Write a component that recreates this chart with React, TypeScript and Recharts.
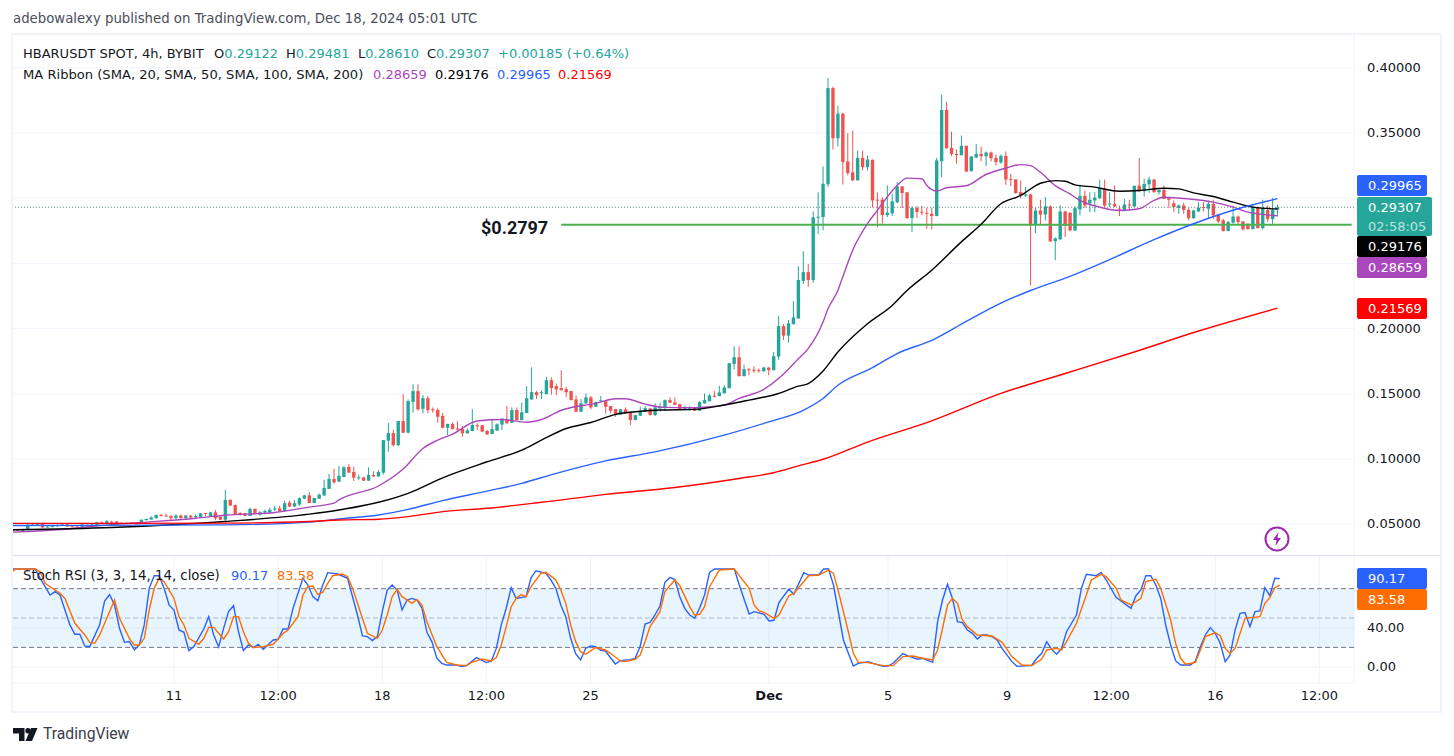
import { Bar, CartesianGrid, ComposedChart, Line, ReferenceArea, ReferenceLine, XAxis, YAxis } from 'recharts';

const FONT = '"DejaVu Sans", sans-serif';
const UP = '#26a69a';
const DOWN = '#ef5350';
const SLOTS = 272;

const tickIndexes = [33, 54, 75, 96, 117, 153, 177, 201, 222, 243, 264];
const tickLabels = ['11', '12:00', '18', '12:00', '25', 'Dec', '5', '9', '12:00', '16', '12:00'];
const priceTicks = [0.05, 0.1, 0.15, 0.2, 0.25, 0.3, 0.35, 0.4];
// these two sit behind the price tags in the reference, only their grid lines show
const coveredPriceTicks = [0.25, 0.3];
const stochTicks = [0, 40];

const opens = [
  0.0448, 0.0456, 0.0449, 0.0456, 0.0494, 0.0496, 0.0503, 0.0478, 0.048, 0.0483,
  0.049, 0.0497, 0.0483, 0.0481, 0.0478, 0.049, 0.049, 0.049, 0.0512, 0.0505,
  0.0518, 0.052, 0.0505, 0.0505, 0.051, 0.0505, 0.0505, 0.053, 0.0535, 0.0545,
  0.057, 0.0565, 0.056, 0.0545, 0.0565, 0.0545, 0.0565, 0.0555, 0.0555, 0.0585,
  0.0562, 0.059, 0.0555, 0.0533, 0.0686, 0.0647, 0.0585, 0.0583, 0.0563, 0.0617,
  0.0572, 0.059, 0.059, 0.0612, 0.062, 0.06, 0.0665, 0.0635, 0.065, 0.0695,
  0.072, 0.0662, 0.0695, 0.072, 0.077, 0.0846, 0.0825, 0.0862, 0.0938, 0.09,
  0.0855, 0.0858, 0.0833, 0.0876, 0.0865, 0.0895, 0.114, 0.1198, 0.1105, 0.129,
  0.1201, 0.1437, 0.152, 0.1385, 0.1466, 0.1381, 0.1375, 0.1329, 0.1239, 0.1268,
  0.1234, 0.1229, 0.1196, 0.1214, 0.1258, 0.1258, 0.1214, 0.1191, 0.1217, 0.1263,
  0.1303, 0.1278, 0.1375, 0.1298, 0.1352, 0.1456, 0.1512, 0.1509, 0.1497, 0.1604,
  0.1558, 0.1543, 0.1535, 0.152, 0.1456, 0.1362, 0.1426, 0.1472, 0.14, 0.1445,
  0.1443, 0.1405, 0.1382, 0.1339, 0.138, 0.1354, 0.1298, 0.1331, 0.1362, 0.1387,
  0.1336, 0.1388, 0.1395, 0.1451, 0.1433, 0.142, 0.1375, 0.1384, 0.139, 0.1369,
  0.1426, 0.1443, 0.1484, 0.1482, 0.1504, 0.1543, 0.1729, 0.178, 0.1635, 0.1688,
  0.1683, 0.1683, 0.1672, 0.1701, 0.1681, 0.1785, 0.2019, 0.1946, 0.2035, 0.2078,
  0.2366, 0.2433, 0.2372, 0.2853, 0.2856, 0.3106, 0.3845, 0.346, 0.3649, 0.3282,
  0.3198, 0.3137, 0.331, 0.3238, 0.3295, 0.2989, 0.2989, 0.2871, 0.2884, 0.2968,
  0.3091, 0.3045, 0.2848, 0.2925, 0.2897, 0.2887, 0.2881, 0.2864, 0.3284, 0.3677,
  0.3386, 0.334, 0.333, 0.3402, 0.3208, 0.3312, 0.334, 0.3322, 0.3351, 0.331,
  0.3274, 0.3325, 0.3149, 0.3144, 0.3047, 0.302, 0.3029, 0.2799, 0.2906, 0.2875,
  0.2937, 0.2671, 0.2684, 0.2898, 0.2888, 0.2753, 0.2914, 0.3018, 0.2962, 0.2983,
  0.3, 0.3072, 0.2955, 0.2957, 0.292, 0.2906, 0.2952, 0.2937, 0.3097, 0.3054,
  0.3107, 0.3143, 0.3046, 0.3064, 0.3, 0.2962, 0.2926, 0.2944, 0.2911, 0.2847,
  0.2898, 0.2933, 0.292, 0.2957, 0.2873, 0.283, 0.2748, 0.2812, 0.286, 0.2822,
  0.2804, 0.2763, 0.2932, 0.2771, 0.2911, 0.284, 0.29122,
];
const highs = [
  0.0462, 0.046, 0.0456, 0.0505, 0.0508, 0.0505, 0.051, 0.0485, 0.0488, 0.0498,
  0.0505, 0.05, 0.0487, 0.0484, 0.05, 0.0498, 0.0502, 0.0515, 0.052, 0.053,
  0.0525, 0.0524, 0.0512, 0.0512, 0.0514, 0.051, 0.0536, 0.0542, 0.056, 0.0572,
  0.0578, 0.058, 0.057, 0.0575, 0.0575, 0.0568, 0.0568, 0.0575, 0.0584, 0.0586,
  0.0592, 0.0607, 0.0558, 0.0762, 0.0688, 0.0649, 0.0592, 0.0585, 0.0625, 0.0618,
  0.06, 0.061, 0.0625, 0.064, 0.064, 0.068, 0.068, 0.0685, 0.0705, 0.0725,
  0.0745, 0.0702, 0.0735, 0.084, 0.0885, 0.0925, 0.0945, 0.0945, 0.096, 0.094,
  0.088, 0.0862, 0.0935, 0.0905, 0.0915, 0.1144, 0.1275, 0.1225, 0.1292, 0.1497,
  0.1456, 0.1573, 0.1573, 0.1489, 0.1482, 0.1395, 0.1388, 0.1352, 0.127, 0.128,
  0.129, 0.1252, 0.1234, 0.1382, 0.1273, 0.126, 0.1222, 0.1298, 0.1273, 0.131,
  0.1405, 0.1395, 0.1395, 0.1433, 0.1558, 0.1703, 0.152, 0.1527, 0.163, 0.1625,
  0.1578, 0.1681, 0.1553, 0.1523, 0.1487, 0.1459, 0.1502, 0.1482, 0.144, 0.1482,
  0.1447, 0.1407, 0.1384, 0.1382, 0.1395, 0.1356, 0.1338, 0.14, 0.1405, 0.1392,
  0.1426, 0.1431, 0.1456, 0.1472, 0.1472, 0.1422, 0.1405, 0.1405, 0.14, 0.1443,
  0.1502, 0.1497, 0.1523, 0.1561, 0.1566, 0.1736, 0.1864, 0.1864, 0.1724, 0.1698,
  0.1711, 0.1693, 0.1706, 0.1703, 0.1821, 0.2096, 0.2035, 0.2066, 0.2211, 0.2479,
  0.2593, 0.2494, 0.2899, 0.3045, 0.3244, 0.3922, 0.3856, 0.371, 0.3657, 0.3499,
  0.3519, 0.3366, 0.3366, 0.3328, 0.3297, 0.3045, 0.3009, 0.3098, 0.3035, 0.3124,
  0.3093, 0.3047, 0.2938, 0.2938, 0.2943, 0.2925, 0.2927, 0.331, 0.3794, 0.3741,
  0.3511, 0.3374, 0.3481, 0.3404, 0.3325, 0.3417, 0.3397, 0.3358, 0.3358, 0.3335,
  0.3335, 0.3358, 0.3187, 0.3146, 0.3136, 0.3086, 0.3035, 0.2926, 0.2988, 0.3008,
  0.2945, 0.27, 0.2945, 0.2906, 0.2893, 0.2937, 0.3102, 0.3059, 0.3046, 0.3046,
  0.3143, 0.3143, 0.3046, 0.3097, 0.2944, 0.2995, 0.2988, 0.3097, 0.3309, 0.3148,
  0.3166, 0.3148, 0.3066, 0.3097, 0.3002, 0.2983, 0.2952, 0.2965, 0.2926, 0.2911,
  0.297, 0.297, 0.2983, 0.2988, 0.2875, 0.2842, 0.2825, 0.2944, 0.2868, 0.2824,
  0.2806, 0.2957, 0.2937, 0.2988, 0.2944, 0.3003, 0.29481,
];
const lows = [
  0.0444, 0.0449, 0.0447, 0.0452, 0.049, 0.0492, 0.047, 0.0474, 0.0477, 0.048,
  0.0487, 0.048, 0.0478, 0.0476, 0.0476, 0.0488, 0.0488, 0.0482, 0.0503, 0.0503,
  0.049, 0.0503, 0.0502, 0.0503, 0.0501, 0.05, 0.0503, 0.0528, 0.0533, 0.0543,
  0.0558, 0.0558, 0.053, 0.054, 0.0542, 0.0543, 0.0548, 0.0545, 0.0553, 0.056,
  0.056, 0.053, 0.053, 0.0525, 0.064, 0.0576, 0.0565, 0.0561, 0.0561, 0.0576,
  0.0565, 0.0575, 0.058, 0.06, 0.059, 0.0595, 0.063, 0.063, 0.064, 0.0692,
  0.066, 0.066, 0.0693, 0.0715, 0.0768, 0.081, 0.0823, 0.086, 0.0893, 0.083,
  0.084, 0.0831, 0.0831, 0.0863, 0.0863, 0.088, 0.1055, 0.1095, 0.11, 0.1199,
  0.1195, 0.1354, 0.137, 0.1349, 0.1349, 0.1354, 0.1278, 0.1235, 0.1183, 0.1225,
  0.1218, 0.1171, 0.1194, 0.1212, 0.1222, 0.1207, 0.1183, 0.1189, 0.1215, 0.1222,
  0.127, 0.1275, 0.1295, 0.1296, 0.135, 0.1454, 0.1459, 0.1459, 0.1495, 0.1492,
  0.1489, 0.1525, 0.1477, 0.1449, 0.136, 0.136, 0.1424, 0.138, 0.1398, 0.1438,
  0.1346, 0.1349, 0.1323, 0.1337, 0.1345, 0.126, 0.1296, 0.1329, 0.136, 0.1334,
  0.1329, 0.1362, 0.137, 0.1429, 0.1413, 0.1373, 0.1373, 0.1369, 0.1367, 0.1367,
  0.1424, 0.1441, 0.1472, 0.148, 0.1502, 0.1541, 0.1686, 0.1633, 0.1633, 0.1642,
  0.166, 0.166, 0.167, 0.1642, 0.1679, 0.176, 0.1912, 0.1892, 0.203, 0.2073,
  0.2341, 0.232, 0.2351, 0.2726, 0.2754, 0.3086, 0.3374, 0.3397, 0.3106, 0.3175,
  0.313, 0.3135, 0.3213, 0.3213, 0.293, 0.2779, 0.2805, 0.2856, 0.2864, 0.2963,
  0.2925, 0.2841, 0.2741, 0.2848, 0.2869, 0.2767, 0.2759, 0.2861, 0.3162, 0.3379,
  0.3323, 0.3264, 0.3328, 0.32, 0.3205, 0.3307, 0.3284, 0.3246, 0.3282, 0.3251,
  0.3264, 0.3103, 0.3093, 0.3035, 0.3, 0.3009, 0.2332, 0.2733, 0.2799, 0.283,
  0.2664, 0.2524, 0.2682, 0.2702, 0.2745, 0.2748, 0.2868, 0.2926, 0.2893, 0.2893,
  0.2995, 0.2932, 0.2932, 0.2932, 0.2863, 0.2899, 0.2906, 0.2932, 0.3046, 0.3013,
  0.3041, 0.3044, 0.3028, 0.2993, 0.2926, 0.2893, 0.288, 0.288, 0.283, 0.2842,
  0.2893, 0.2898, 0.2842, 0.2842, 0.2809, 0.2745, 0.2746, 0.2804, 0.2799, 0.2753,
  0.276, 0.2761, 0.2769, 0.2761, 0.2817, 0.2799, 0.2861,
];
const closes = [
  0.0456, 0.0451, 0.0454, 0.0494, 0.0497, 0.0499, 0.0474, 0.048, 0.0484, 0.0491,
  0.0497, 0.0482, 0.048, 0.0478, 0.0497, 0.0494, 0.0497, 0.0513, 0.0505, 0.0523,
  0.051, 0.0505, 0.051, 0.051, 0.0503, 0.0502, 0.0533, 0.054, 0.055, 0.057,
  0.0565, 0.056, 0.0545, 0.0565, 0.0545, 0.0565, 0.055, 0.0562, 0.0582, 0.058,
  0.059, 0.0545, 0.0533, 0.0685, 0.0642, 0.0578, 0.0575, 0.0563, 0.0617, 0.0578,
  0.059, 0.06, 0.061, 0.062, 0.06, 0.066, 0.0635, 0.066, 0.0698, 0.072,
  0.0662, 0.07, 0.0725, 0.0777, 0.0846, 0.082, 0.087, 0.0935, 0.0895, 0.0856,
  0.0858, 0.0833, 0.0877, 0.0865, 0.09, 0.1144, 0.1198, 0.1106, 0.129, 0.1201,
  0.1443, 0.152, 0.138, 0.1466, 0.1375, 0.1375, 0.1323, 0.1239, 0.1268, 0.1229,
  0.1225, 0.1196, 0.1219, 0.126, 0.125, 0.1209, 0.1188, 0.1229, 0.1265, 0.1308,
  0.1273, 0.1375, 0.1298, 0.1357, 0.1466, 0.1512, 0.1489, 0.1512, 0.1604, 0.1543,
  0.1533, 0.1527, 0.1512, 0.1451, 0.1362, 0.1426, 0.1472, 0.1395, 0.1436, 0.1449,
  0.14, 0.1369, 0.1336, 0.138, 0.1349, 0.1298, 0.1336, 0.1369, 0.139, 0.1336,
  0.1395, 0.1398, 0.1451, 0.1431, 0.1415, 0.1375, 0.139, 0.1387, 0.1369, 0.1436,
  0.1451, 0.1487, 0.148, 0.151, 0.1548, 0.1734, 0.178, 0.1635, 0.1688, 0.1683,
  0.1678, 0.1678, 0.1701, 0.1681, 0.1788, 0.2019, 0.1946, 0.204, 0.2086, 0.2372,
  0.2433, 0.2372, 0.2853, 0.2858, 0.3111, 0.3845, 0.346, 0.3649, 0.3277, 0.3193,
  0.3137, 0.331, 0.3238, 0.3297, 0.2983, 0.2983, 0.2871, 0.2889, 0.2976, 0.3091,
  0.304, 0.2848, 0.2925, 0.2894, 0.2892, 0.2884, 0.2864, 0.329, 0.3677, 0.3384,
  0.334, 0.333, 0.3402, 0.3205, 0.332, 0.334, 0.3322, 0.3351, 0.3307, 0.3277,
  0.3325, 0.3144, 0.3144, 0.304, 0.3022, 0.3029, 0.2791, 0.2906, 0.2875, 0.2937,
  0.2669, 0.2692, 0.2898, 0.2791, 0.2753, 0.2924, 0.3018, 0.2944, 0.2988, 0.3005,
  0.3079, 0.2944, 0.2959, 0.2937, 0.2915, 0.2952, 0.2948, 0.3095, 0.3054, 0.311,
  0.3143, 0.3046, 0.3064, 0.2995, 0.2988, 0.2932, 0.2944, 0.2911, 0.2847, 0.2906,
  0.2926, 0.2928, 0.2957, 0.2868, 0.2822, 0.2748, 0.2817, 0.286, 0.2817, 0.2761,
  0.2763, 0.2932, 0.2771, 0.2926, 0.284, 0.2912, 0.29307,
];

// moving averages and stoch rsi, read as [candle index, value] at the visible bends
const sma20: number[][] = [
  [0, 0.0438], [9, 0.0456], [18, 0.0489], [26, 0.0512], [37, 0.0545], [43, 0.0568], [53, 0.0589], [60, 0.063], [65, 0.066],
  [66, 0.0685], [74, 0.0792], [79, 0.0922], [83, 0.108], [86, 0.1144], [89, 0.119], [94, 0.1291], [99, 0.1302],
  [104, 0.1281], [107, 0.1302], [111, 0.1373], [118, 0.1426], [122, 0.1461], [124, 0.1461], [128, 0.142], [132, 0.1395], [138, 0.1392],
  [144, 0.1413], [147, 0.1464], [152, 0.1533], [155, 0.1617], [157, 0.1688], [159, 0.1769], [161, 0.1846], [164, 0.205], [165, 0.2152],
  [167, 0.2292], [168, 0.2397], [170, 0.2601], [173, 0.2805], [175, 0.2907], [179, 0.3098], [181, 0.3154], [184, 0.3149], [185, 0.3098],
  [187, 0.3055], [189, 0.308], [193, 0.3096], [197, 0.3182], [201, 0.3231], [204, 0.3258], [206, 0.325], [208, 0.3199], [211, 0.3097],
  [214, 0.3033], [216, 0.2983], [220, 0.2932], [224, 0.2906], [228, 0.2919], [231, 0.2983], [233, 0.3008], [238, 0.2995], [243, 0.297],
  [247, 0.2932], [250, 0.2893], [256, 0.28659],
];
const sma50: number[][] = [
  [0, 0.0456], [20, 0.0474], [43, 0.052], [60, 0.0576], [66, 0.0608], [74, 0.0667], [80, 0.0736], [87, 0.0855], [96, 0.0978],
  [103, 0.1067], [107, 0.1144], [112, 0.1233], [117, 0.1279], [122, 0.1342], [127, 0.1365], [131, 0.1375], [138, 0.138], [144, 0.1413],
  [149, 0.1451], [155, 0.1502], [159, 0.1558], [161, 0.1578], [164, 0.1675], [167, 0.182], [173, 0.2037], [178, 0.2177], [181, 0.2292],
  [186, 0.2448], [192, 0.2665], [196, 0.28], [200, 0.2958], [204, 0.3021], [208, 0.3115], [211, 0.3135], [213, 0.313], [215, 0.3102],
  [219, 0.3085], [224, 0.3054], [228, 0.3059], [233, 0.3077], [236, 0.3072], [239, 0.3041], [243, 0.3013], [247, 0.297], [251, 0.2932],
  [256, 0.29176],
];
const sma100: number[][] = [
  [0, 0.0489], [43, 0.0494], [60, 0.0515], [66, 0.0539], [74, 0.057], [80, 0.0613], [87, 0.068], [96, 0.0753], [103, 0.0812],
  [110, 0.0889], [120, 0.0985], [130, 0.1054], [144, 0.1182], [153, 0.1284], [160, 0.1373], [164, 0.1463], [167, 0.1565], [174, 0.17],
  [179, 0.1808], [186, 0.191], [193, 0.2055], [200, 0.2195], [206, 0.2292], [214, 0.2401], [222, 0.2529], [231, 0.2682], [239, 0.2804],
  [248, 0.2919], [256, 0.29965],
];
const sma200: number[][] = [
  [0, 0.0505], [43, 0.0507], [53, 0.0512], [60, 0.052], [66, 0.0531], [74, 0.0537], [80, 0.0557], [87, 0.0595], [96, 0.0621],
  [107, 0.0667], [120, 0.0728], [134, 0.0781], [147, 0.085], [154, 0.0894], [159, 0.0946], [164, 0.0997], [173, 0.1129], [186, 0.1292],
  [200, 0.1502], [213, 0.1655], [227, 0.182], [240, 0.1981], [256, 0.21569],
];
const stochK: number[][] = [
  [0, 100], [1, 100], [5, 100], [6, 90.5], [8, 73.5], [9, 77], [10, 73.5], [12, 43], [13, 33.4], [14, 33.4], [15, 21.5], [16, 20.8],
  [18, 43], [19, 67.4], [20, 74], [21, 63.3], [22, 39.5], [23, 25.2], [24, 26], [25, 17.4], [26, 22.5], [27, 43], [28, 80.3], [29, 93.2],
  [30, 93.2], [31, 80.3], [32, 63.3], [33, 58.2], [34, 37.8], [35, 35.4], [36, 16.7], [37, 20.8], [39, 38.8], [40, 51.4], [41, 32.7],
  [42, 20.5], [43, 39.5], [44, 56.5], [45, 62.6], [46, 36], [47, 16.7], [48, 22.5], [49, 19.8], [50, 23.2], [51, 18], [53, 27.6], [54, 28.3],
  [55, 38.8], [56, 38.8], [57, 59.9], [59, 90.5], [60, 83.7], [61, 71.8], [62, 67.7], [63, 83.7], [64, 96.3], [66, 94.9], [68, 90.5],
  [70, 53.1], [71, 31.7], [72, 31], [73, 27], [74, 31], [75, 56.5], [76, 78.6], [77, 83.7], [78, 78.6], [79, 58.2], [80, 68.4], [81, 70],
  [82, 68.4], [83, 60], [84, 35.4], [85, 26], [86, 9], [87, 3.8], [88, 2], [90, 2], [91, 0.4], [92, 1.4], [94, 9.6], [96, 4.5], [97, 6.2],
  [98, 19], [99, 43], [100, 60], [101, 81], [102, 70], [104, 71.8], [105, 91], [106, 98.3], [108, 95.6], [109, 88.8], [110, 80.3], [111, 63.3],
  [112, 51.4], [113, 29.3], [114, 13.7], [115, 7.2], [116, 19], [117, 21.5], [118, 20.8], [119, 17.4], [120, 16.4], [122, 3.1], [123, 6.5],
  [125, 7.5], [126, 8.9], [127, 20.8], [128, 43.9], [129, 45.6], [130, 53.1], [131, 62.3], [132, 86.4], [133, 91.2], [134, 89.5], [135, 71.8],
  [136, 59.9], [137, 53.1], [138, 49.7], [139, 59.9], [140, 73.5], [141, 96.6], [142, 100], [146, 100], [147, 83.7], [149, 54.1], [150, 56.5],
  [152, 53.8], [153, 47], [154, 47.7], [155, 65.7], [157, 79.6], [158, 74.2], [160, 96.3], [161, 93.9], [163, 93.9], [164, 100], [165, 100],
  [166, 83.7], [168, 27.6], [169, 14], [170, 1], [171, 3.8], [173, 5.5], [174, 3.8], [176, 0.7], [177, 1], [178, 3.8], [180, 13.7], [181, 11.3],
  [183, 7.9], [184, 8.9], [186, 4.8], [187, 46.3], [188, 68.4], [189, 84.4], [190, 70], [191, 46.3], [192, 45.3], [193, 37.8], [194, 34.4],
  [195, 28.6], [196, 32.7], [197, 32.7], [198, 31], [199, 27.6], [200, 19], [202, 5.5], [203, 0.7], [206, 1.8], [207, 8.9], [208, 14], [209, 25.9],
  [210, 18], [211, 13], [212, 19], [213, 36], [215, 53.1], [216, 80.3], [217, 94.6], [219, 93.2], [220, 96.6], [221, 88.8], [223, 71.1], [226, 59.9],
  [227, 72.8], [228, 78.6], [229, 93.2], [230, 93.2], [231, 83.7], [232, 70], [233, 42.9], [234, 22.5], [235, 6.5], [236, 2.1], [238, 2.1], [239, 6.2],
  [240, 20.8], [241, 32.7], [242, 40.2], [243, 34.4], [244, 24.2], [245, 5.5], [246, 12.3], [247, 37.8], [248, 54.8], [249, 55.5], [250, 41.2],
  [251, 56.5], [252, 57.2], [253, 81], [254, 72.8], [255, 90.5], [256, 90.17],
];
const stochD: number[][] = [
  [0, 95.6], [1, 100], [5, 100], [6, 97.3], [7, 85.4], [9, 78.6], [10, 75.2], [11, 70], [13, 44.6], [15, 32.7], [16, 25.2], [17, 24.2], [18, 32.7],
  [20, 56.5], [21, 68.4], [22, 49.7], [24, 29.3], [25, 22.5], [26, 22.5], [27, 29.3], [28, 58.2], [29, 80.3], [30, 90.5], [31, 87.1], [33, 70],
  [34, 51.4], [35, 42.9], [36, 29.3], [38, 23.2], [39, 29.3], [40, 40.5], [41, 40.5], [42, 34.4], [43, 28.6], [44, 36], [45, 51.4], [46, 51.4],
  [47, 36], [48, 24.2], [49, 19.8], [51, 20.8], [53, 23.2], [54, 28.6], [55, 34.4], [56, 37.8], [58, 51.4], [59, 73.5], [60, 82], [61, 82.7],
  [62, 74.2], [63, 76.2], [64, 85.4], [65, 93.2], [67, 94.9], [68, 92.2], [69, 80.3], [71, 49.7], [72, 34.4], [74, 29.3], [75, 37.8], [76, 53.1],
  [77, 71.8], [78, 79.3], [79, 71.8], [81, 65], [82, 69], [83, 63.3], [84, 46.3], [86, 20.8], [88, 4.8], [90, 2.1], [92, 1.4], [93, 4.8], [94, 6.2],
  [95, 8.2], [97, 6.2], [98, 9.6], [99, 22.5], [100, 41.2], [101, 61.6], [102, 70], [103, 74], [104, 71.8], [105, 82], [107, 95.6], [108, 96.6],
  [110, 88.8], [111, 78.6], [112, 65], [113, 42.9], [114, 25.9], [115, 15.7], [116, 13], [118, 19.8], [120, 17.4], [121, 14], [123, 6.2], [124, 5.5],
  [126, 7.9], [127, 12.3], [128, 25.9], [129, 41.2], [131, 56.5], [132, 76.9], [134, 88.8], [135, 83], [137, 61.6], [138, 53.1], [139, 53.8],
  [140, 61.6], [141, 82], [143, 99], [146, 100], [147, 93.2], [149, 80.3], [150, 63.3], [151, 57.2], [152, 55.8], [154, 49.7], [155, 53.1],
  [157, 72.8], [158, 75.2], [161, 93.2], [163, 93.9], [165, 99], [166, 95.6], [167, 76.9], [169, 36], [170, 14], [171, 4.8], [173, 4.5], [176, 1.4],
  [178, 1.4], [180, 10.6], [182, 11.3], [184, 8.9], [186, 7.2], [187, 17.4], [188, 39.5], [189, 63.3], [190, 70], [191, 65], [192, 48], [193, 41.2],
  [195, 32.7], [198, 31.7], [200, 25.2], [202, 10.6], [204, 2], [206, 1.4], [208, 8.2], [209, 17.4], [211, 19], [212, 17.4], [213, 25.9], [215, 44.6],
  [217, 73.5], [218, 88.8], [220, 94.6], [221, 92.2], [223, 80.3], [224, 68.4], [226, 63.3], [228, 70], [229, 87.1], [231, 89.8], [232, 80.3],
  [234, 48], [235, 24.2], [236, 8.9], [237, 2.8], [239, 4.8], [240, 17.4], [241, 31], [243, 35], [244, 32], [245, 19], [246, 14], [247, 19], [249, 49.7],
  [252, 51.4], [253, 65], [254, 70.8], [255, 81], [256, 83.58],
];

const lookup = (pairs: number[][]) => new Map(pairs.map(([i, v]) => [i, v]));
const s20 = lookup(sma20);
const s50 = lookup(sma50);
const s100 = lookup(sma100);
const s200 = lookup(sma200);
const kMap = lookup(stochK);
const dMap = lookup(stochD);

const rows = Array.from({ length: SLOTS }, (_, i) => ({
  i,
  open: opens[i],
  high: highs[i],
  low: lows[i],
  close: closes[i],
  range: i < opens.length ? [lows[i], highs[i]] : null,
  sma20: s20.get(i) ?? null,
  sma50: s50.get(i) ?? null,
  sma100: s100.get(i) ?? null,
  sma200: s200.get(i) ?? null,
  k: kMap.get(i) ?? null,
  d: dMap.get(i) ?? null,
}));

function Candle(props: any) {
  const { x, y, width, height, payload } = props;
  if (!payload || payload.open === undefined || !height) return null;
  const { open, high, low, close } = payload;
  const perUnit = height / (high - low);
  const cx = x + width / 2;
  const top = y + (high - Math.max(open, close)) * perUnit;
  const bodyH = Math.max(Math.abs(open - close) * perUnit, 1);
  const color = close >= open ? UP : DOWN;
  return (
    <g>
      <line x1={cx} x2={cx} y1={y} y2={y + height} stroke={color} strokeWidth={1} />
      <rect x={cx - 1.7} y={top} width={3.4} height={bodyH} fill={color} />
    </g>
  );
}

function TimeTick(props: any) {
  const { x, y, payload } = props;
  const idx = tickIndexes.indexOf(payload.value);
  const label = tickLabels[idx];
  return (
    <text x={x} y={y + 9} textAnchor="middle" fontSize={13} fontFamily={FONT} fill="#131722" fontWeight={label === 'Dec' ? 700 : 400}>
      {label}
    </text>
  );
}

function PriceTick(props: any) {
  const { x, y, payload } = props;
  if (coveredPriceTicks.includes(payload.value)) return null;
  return (
    <text x={x} y={y + 4} fontSize={13} fontFamily={FONT} fill="#131722">
      {payload.value.toFixed(5)}
    </text>
  );
}

function StochTick(props: any) {
  const { x, y, payload } = props;
  return (
    <text x={x} y={y + 4} fontSize={13} fontFamily={FONT} fill="#131722">
      {payload.value.toFixed(2)}
    </text>
  );
}

function Tag({ top, height = 21, width = 70, bg, text, sub }: { top: number; height?: number; width?: number; bg: string; text: string; sub?: string }) {
  return (
    <div style={{ position: 'absolute', left: 1357, top, width, height, background: bg, color: '#fff', borderRadius: 2, fontSize: 13, lineHeight: '19px', paddingLeft: 11, boxSizing: 'border-box', paddingTop: 1 }}>
      <div>{text}</div>
      {sub && <div style={{ color: 'rgba(255,255,255,0.7)' }}>{sub}</div>}
    </div>
  );
}

function Txt({ x, y, color = '#131722', size = 13, bold, font, children }: { x: number; y: number; color?: string; size?: number; bold?: boolean; font?: string; children: any }) {
  return (
    <div style={{ position: 'absolute', left: x, top: y, color, fontSize: size, fontWeight: bold ? 700 : 400, fontFamily: font, whiteSpace: 'nowrap', lineHeight: '18px' }}>
      {children}
    </div>
  );
}

export default function App() {
  const line = (key: string, color: string) => (
    <Line dataKey={key} stroke={color} strokeWidth={1.4} dot={false} connectNulls type="monotone" isAnimationActive={false} />
  );
  const stoch = (key: string, color: string) => (
    <Line dataKey={key} stroke={color} strokeWidth={1.4} dot={false} connectNulls type="linear" isAnimationActive={false} />
  );
  return (
    <div style={{ position: 'absolute', left: 0, top: 0, width: 1454, height: 756, background: '#fff', fontFamily: FONT, overflow: 'hidden' }}>
      <div style={{ position: 'absolute', left: 0, top: 0 }}>
        <ComposedChart width={1454} height={556} data={rows} margin={{ top: 34, right: 0, bottom: 1, left: 10.4 }} barCategoryGap={0}>
          <CartesianGrid stroke="#f0f3fa" strokeWidth={1} />
          <XAxis dataKey="i" ticks={tickIndexes} tick={false} tickLine={false} axisLine={false} height={0} interval={0} />
          <YAxis
            orientation="right"
            width={99.9}
            domain={[0.02626, 0.426]}
            allowDataOverflow
            ticks={priceTicks}
            tick={<PriceTick />}
            tickLine={false}
            axisLine={false}
            tickMargin={7}
          />
          <ReferenceLine y={0.29307} stroke="#5f7f7c" strokeDasharray="1 2" strokeWidth={1} />
          <ReferenceLine
            stroke="#4caf50"
            strokeWidth={2}
            segment={[{ x: 111, y: 0.2797 }, { x: 271, y: 0.2797 }]}
          />
          <Bar dataKey="range" shape={<Candle />} isAnimationActive={false} />
          {line('sma20', '#ab47bc')}
          {line('sma50', '#000000')}
          {line('sma100', '#2962ff')}
          {line('sma200', '#ff0000')}
        </ComposedChart>
      </div>
      <div style={{ position: 'absolute', left: 0, top: 556 }}>
        <ComposedChart width={1454} height={156} data={rows} margin={{ top: 0, right: 0, bottom: 0, left: 10.4 }}>
          <CartesianGrid stroke="#f0f3fa" strokeWidth={1} />
          <XAxis dataKey="i" ticks={tickIndexes} tick={<TimeTick />} tickLine={false} axisLine={false} height={29} interval={0} />
          <YAxis
            orientation="right"
            width={99.9}
            domain={[-16.3, 113.3]}
            allowDataOverflow
            ticks={stochTicks}
            tick={<StochTick />}
            tickLine={false}
            axisLine={false}
            tickMargin={7}
          />
          <ReferenceArea y1={20} y2={80} fill="#2196f3" fillOpacity={0.1} stroke="none" />
          <ReferenceLine y={80} stroke="#787b86" strokeDasharray="5 3" />
          <ReferenceLine y={50} stroke="#787b86" strokeOpacity={0.5} strokeDasharray="5 3" />
          <ReferenceLine y={20} stroke="#787b86" strokeDasharray="5 3" />
          {stoch('k', '#2962ff')}
          {stoch('d', '#ff6d00')}
        </ComposedChart>
      </div>

      {/* frame drawn over the charts */}
      <div style={{ position: 'absolute', left: 0, top: 33, width: 13, height: 680, background: '#fff' }} />
      <div style={{ position: 'absolute', left: 11, top: 33, width: 2, height: 680, background: '#f0f3fa' }} />
      <div style={{ position: 'absolute', left: 11, top: 33, width: 1431, height: 2, background: '#f0f3fa' }} />
      <div style={{ position: 'absolute', left: 1440, top: 33, width: 2, height: 680, background: '#f0f3fa' }} />
      <div style={{ position: 'absolute', left: 11, top: 711, width: 1431, height: 2, background: '#f0f3fa' }} />
      <div style={{ position: 'absolute', left: 13, top: 555, width: 1427, height: 1, background: '#e0e3eb' }} />

      <Txt x={13} y={10} size={13.3} color="#4a4e5a">adebowalexy published on TradingView.com, Dec 18, 2024 05:01 UTC</Txt>
      <Txt x={23} y={45}>HBARUSDT SPOT, 4h, BYBIT</Txt>
      <Txt x={214} y={45}>O<span style={{ color: UP }}>0.29122</span></Txt>
      <Txt x={286} y={45}>H<span style={{ color: UP }}>0.29481</span></Txt>
      <Txt x={358} y={45}>L<span style={{ color: UP }}>0.28610</span></Txt>
      <Txt x={427} y={45}>C<span style={{ color: UP }}>0.29307</span></Txt>
      <Txt x={498} y={45} color={UP}>+0.00185 (+0.64%)</Txt>
      <Txt x={23} y={66} size={13.1}>MA Ribbon (SMA, 20, SMA, 50, SMA, 100, SMA, 200)</Txt>
      <Txt x={373} y={66} color="#ab47bc">0.28659</Txt>
      <Txt x={435} y={66} color="#000">0.29176</Txt>
      <Txt x={497} y={66} color="#2962ff">0.29965</Txt>
      <Txt x={558} y={66} color="#ff0000">0.21569</Txt>
      <Txt x={23} y={567} size={13.3}>Stoch RSI (3, 3, 14, 14, close)</Txt>
      <Txt x={231} y={567} color="#2962ff">90.17</Txt>
      <Txt x={277} y={567} color="#ff6d00">83.58</Txt>
      <Txt x={481} y={219} size={18} bold font="Roboto, sans-serif">$0.2797</Txt>

      <Tag top={175} bg="#2962ff" text="0.29965" />
      <Tag top={236} bg="#000000" text="0.29176" />
      <Tag top={257} bg="#ab47bc" text="0.28659" />
      <Tag top={298} bg="#ff0000" text="0.21569" />
      <Tag top={197} height={39} width={75} bg="#26a69a" text="0.29307" sub="02:58:05" />
      <Tag top={568} bg="#2962ff" width={70} text="90.17" />
      <Tag top={589} bg="#ff6d00" width={70} text="83.58" />

      <svg style={{ position: 'absolute', left: 1264, top: 526 }} width={26} height={26} viewBox="0 0 26 26">
        <circle cx={13} cy={13} r={11.5} fill="none" stroke="#9c27b0" strokeWidth={2} />
        <path d="M14.5 6 L9 14 H12.5 L11.5 20 L17 12 H13.5 Z" fill="#9c27b0" />
      </svg>

      <svg style={{ position: 'absolute', left: 13, top: 728 }} width={25} height={14} viewBox="0 0 25 14">
        <path d="M0 0 H11.5 V13 H6 V5.5 H0 Z" fill="#131722" />
        <circle cx={15} cy={2.7} r={2.7} fill="#131722" />
        <path d="M24.5 0 L19 13 H12.5 L18 0 Z" fill="#131722" />
      </svg>
      <Txt x={43} y={725} size={15.7} color="#3a3e4a" font="Roboto, sans-serif">TradingView</Txt>
    </div>
  );
}
